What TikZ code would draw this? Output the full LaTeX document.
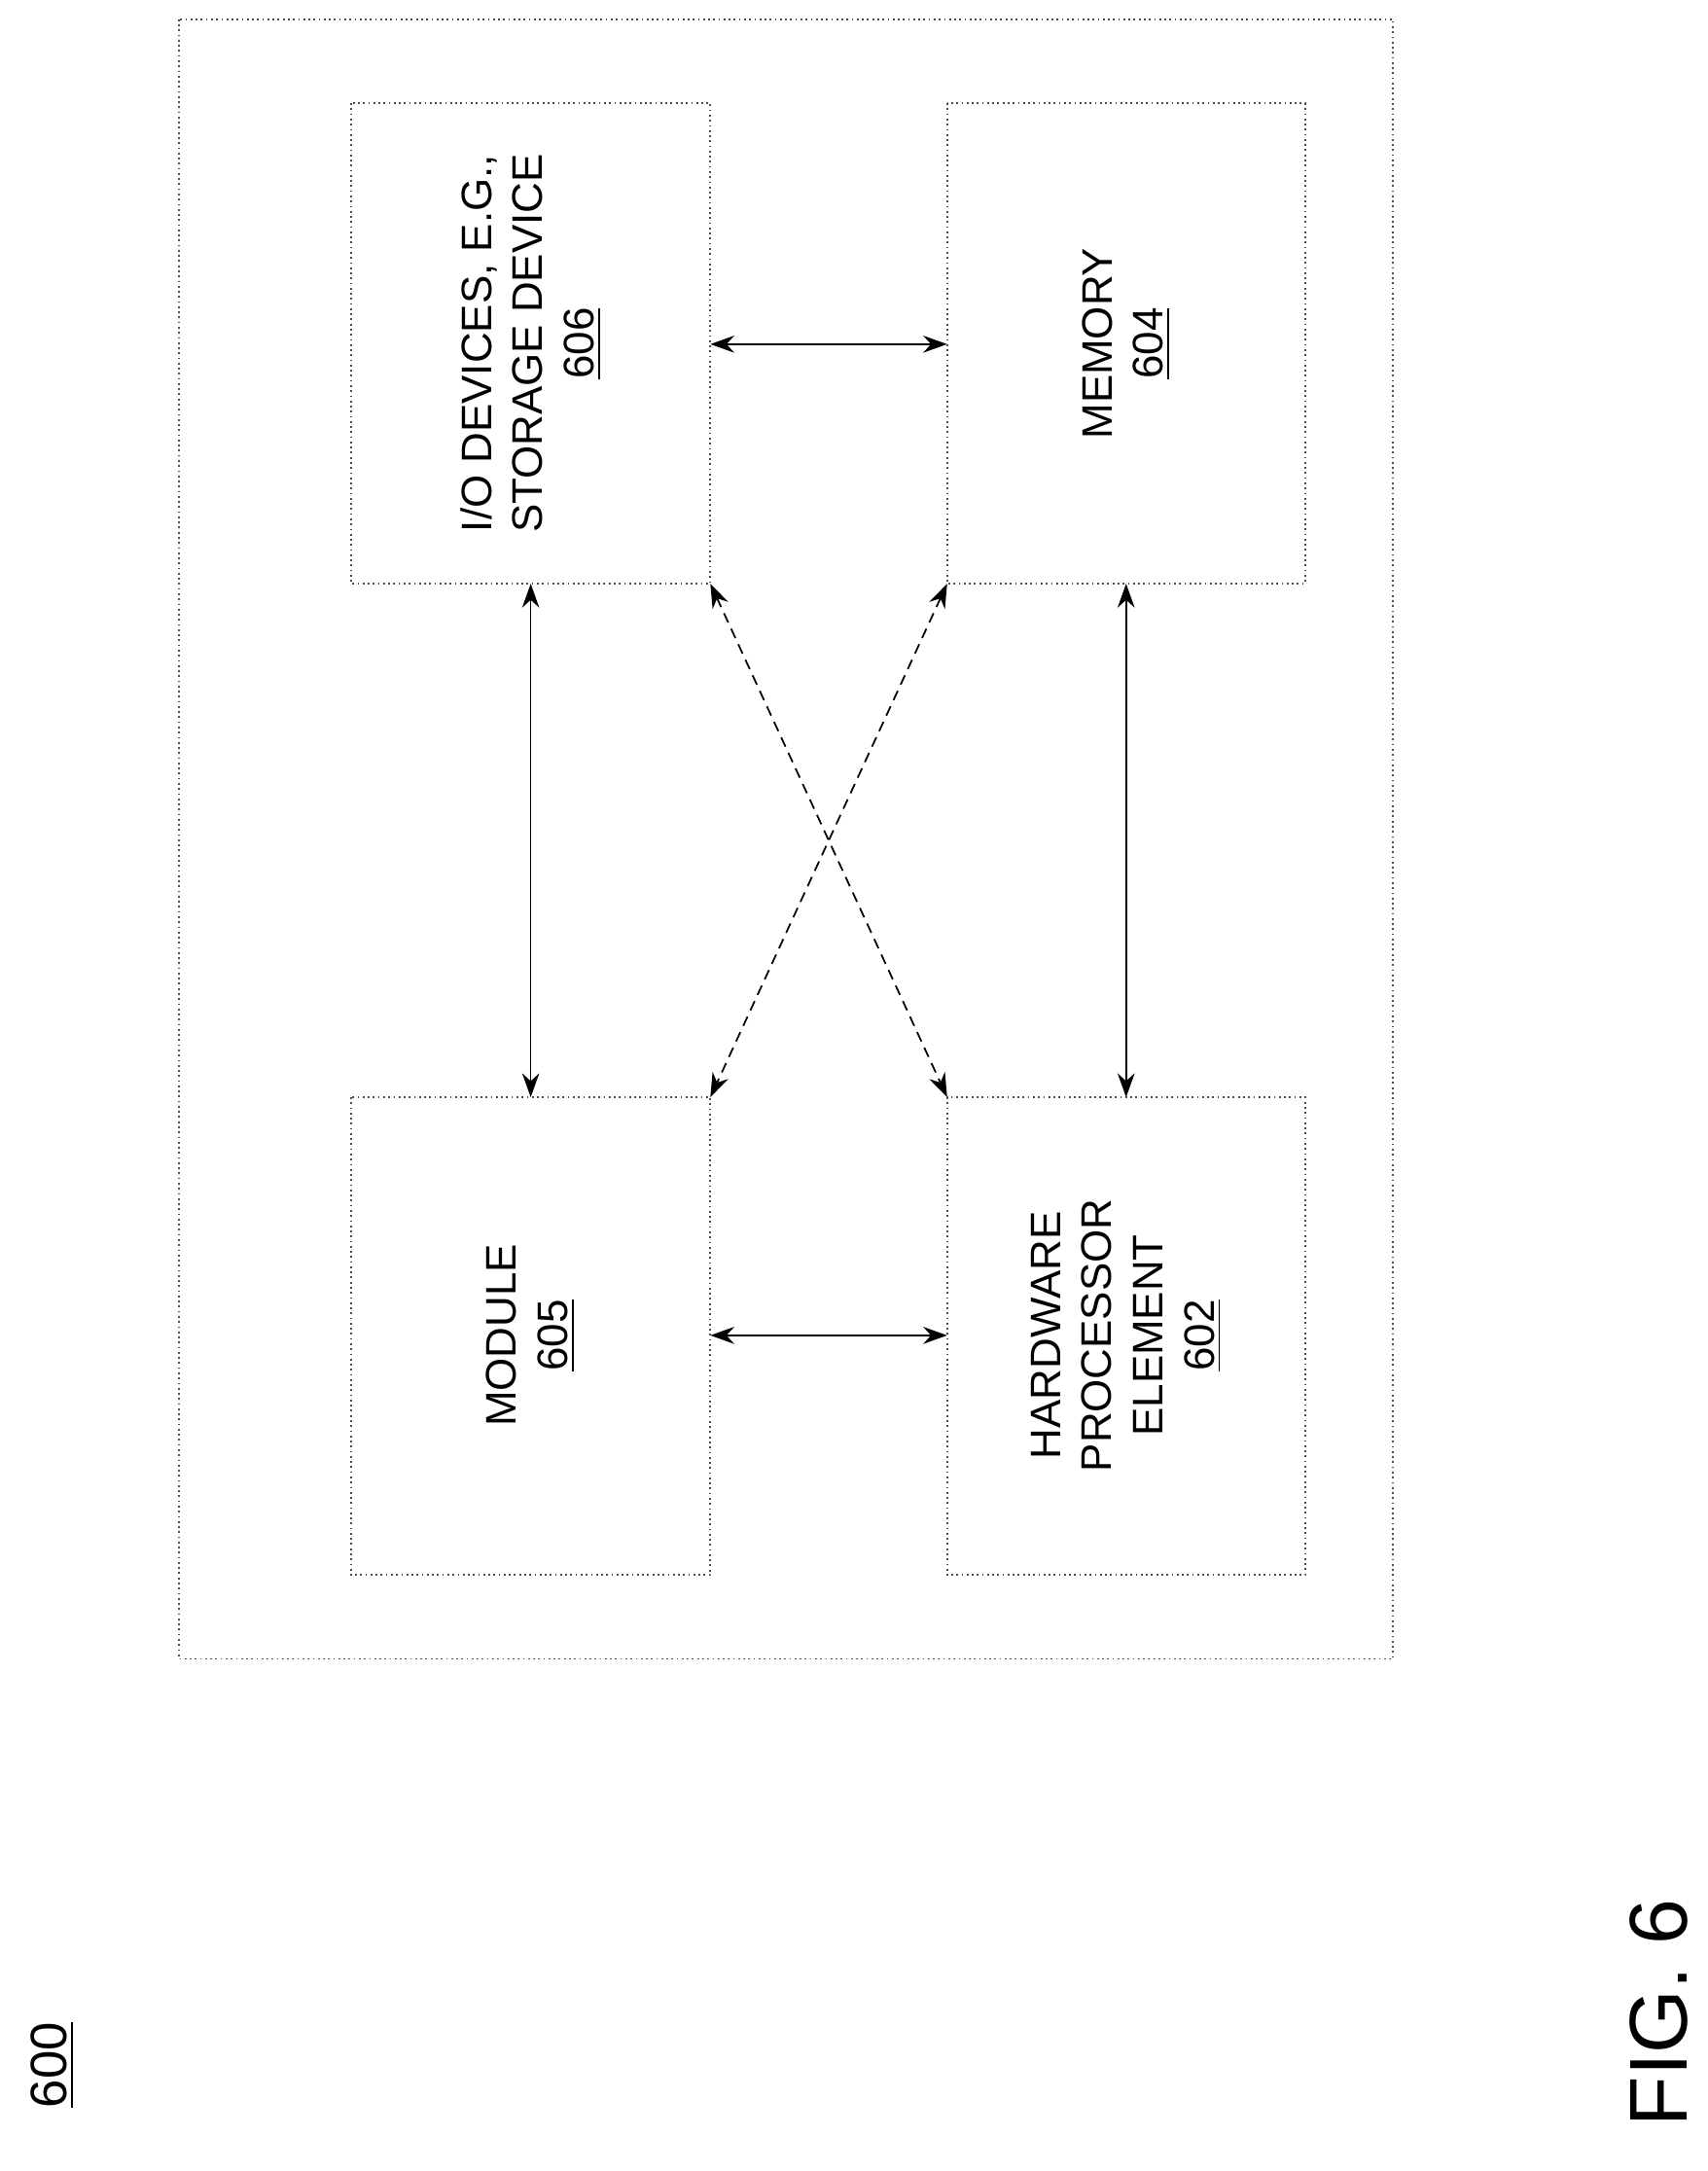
\documentclass[tikz,border=0pt]{standalone}
\usepackage{fontspec}
\setmainfont{Liberation Sans}
\usetikzlibrary{arrows.meta}
\begin{document}
\begin{tikzpicture}[x=0.014153cm,y=-0.014153cm,
  box/.style={draw=black!70,densely dotted,line width=0.5pt},
  lbl/.style={rotate=90,align=center,font=\fontsize{12.5}{15}\selectfont},
  arr/.style={{Stealth[length=7pt,width=5pt]}-{Stealth[length=7pt,width=5pt]},line width=0.5pt},
  darr/.style={arr,densely dashed}]
\useasboundingbox (0,0) rectangle (1240,1577);
\draw[box] (130,14) rectangle (1012,1205);
\draw[box] (255,75) rectangle (516,424);
\draw[box] (688,75) rectangle (948,424);
\draw[box] (255,797) rectangle (516,1144);
\draw[box] (688,797) rectangle (948,1144);
\coordinate (IOl) at (385.5,424); \coordinate (IOr) at (516,250); \coordinate (IObr) at (516,424);
\coordinate (MEl) at (688,250); \coordinate (MEb) at (818,424); \coordinate (MEbl) at (688,424);
\coordinate (MOt) at (385.5,797); \coordinate (MOr) at (516,970); \coordinate (MOtr) at (516,797);
\coordinate (HWl) at (688,970); \coordinate (HWt) at (818,797); \coordinate (HWtl) at (688,797);
\node[lbl] (t606) at (385.5,249.5) {I/O DEVICES, E.G.,\\STORAGE DEVICE\\\underline{606}};
\node[lbl] (t604) at (818,249.5) {MEMORY\\\underline{604}};
\node[lbl] (t605) at (385.5,970) {MODULE\\\underline{605}};
\node[lbl] (t602) at (818,970) {HARDWARE\\PROCESSOR\\ELEMENT\\\underline{602}};
\draw[arr] (IOr) -- (MEl);
\draw[arr] (MOr) -- (HWl);
\draw[arr] (IOl) -- (MOt);
\draw[arr] (MEb) -- (HWt);
\draw[darr] (IObr) -- (HWtl);
\draw[darr] (MEbl) -- (MOtr);
\node[rotate=90,font=\fontsize{15}{18}\selectfont] (n600) at (38,1500) {\underline{600}};
\node[rotate=90,font=\fontsize{24}{28}\selectfont] (fig) at (1205,1462) {FIG. 6};
\end{tikzpicture}
\end{document}
